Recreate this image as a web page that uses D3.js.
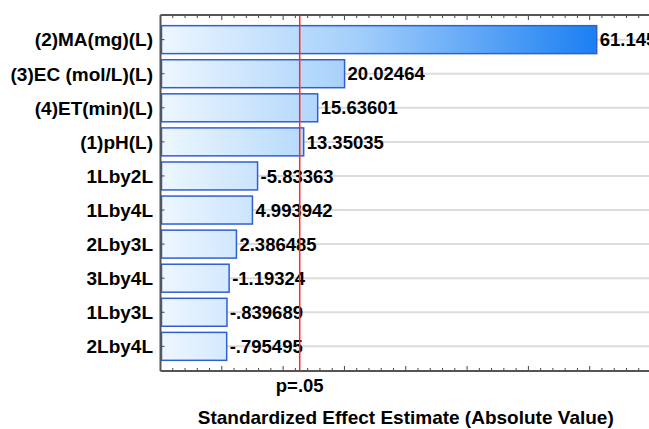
<!DOCTYPE html>
<html><head><meta charset="utf-8">
<script src="https://cdn.jsdelivr.net/npm/d3@7"></script>
<style>body{margin:0;background:#fff;} svg{display:block;}</style>
</head><body>
<svg id="c" width="649" height="429"></svg>
<script>
const categories = ["(2)MA(mg)(L)","(3)EC (mol/L)(L)","(4)ET(min)(L)","(1)pH(L)","1Lby2L","1Lby4L","2Lby3L","3Lby4L","1Lby3L","2Lby4L"];
const effects = [61.14500, 20.02464, 15.63601, 13.35035, -5.83363, 4.993942, 2.386485, -1.19324, -0.839689, -0.795495];
const valueLabels = ["61.14500","20.02464","15.63601","13.35035","-5.83363","4.993942","2.386485","-1.19324","-.839689","-.795495"];
const pCritical = 12.706;
const pLabel = "p=.05";
const xTitle = "Standardized Effect Estimate (Absolute Value)";
const xDomain = [-10, 70];

const svg = d3.select("#c");
const L = 160.5, R = 651, T = 15, B = 371;
const x = d3.scaleLinear().domain(xDomain).range([L, R]);
const y = d3.scaleBand().domain(categories).range([T, B]).paddingInner(0.18).paddingOuter(0.313);
const font = "'Liberation Sans', Arial, sans-serif";

const defs = svg.append("defs");
const g = defs.append("linearGradient").attr("id","grad").attr("gradientUnits","userSpaceOnUse")
  .attr("x1", x(xDomain[0])).attr("x2", x(d3.max(effects, d=>Math.abs(d)))).attr("y1",0).attr("y2",0);
g.append("stop").attr("offset",0).attr("stop-color","#eef7ff");
g.append("stop").attr("offset",0.45).attr("stop-color","#a3cffb");
g.append("stop").attr("offset",1).attr("stop-color","#1b7ff2");

// grid lines
svg.append("g").selectAll("line").data(categories).join("line")
  .attr("x1", L).attr("x2", R)
  .attr("y1", d=>y(d)+y.bandwidth()/2).attr("y2", d=>y(d)+y.bandwidth()/2)
  .attr("stroke","#dcdcdc").attr("stroke-width",2);

// bars
svg.append("g").selectAll("rect").data(categories).join("rect")
  .attr("x", x(xDomain[0])+1)
  .attr("y", d=>y(d))
  .attr("width", (d,i)=>x(Math.abs(effects[i]))-x(xDomain[0])-1)
  .attr("height", y.bandwidth())
  .attr("fill","url(#grad)")
  .attr("stroke","#2f5fd3").attr("stroke-width",1.5);

// value labels
svg.append("g").selectAll("text").data(categories).join("text")
  .attr("x", (d,i)=>x(Math.abs(effects[i]))+3)
  .attr("y", d=>y(d)+y.bandwidth()/2)
  .attr("dy","0.36em")
  .attr("font-family",font).attr("font-weight","bold").attr("font-size",18.5)
  .attr("fill","#000")
  .text((d,i)=>valueLabels[i]);

// red line
svg.append("line").attr("x1",x(pCritical)).attr("x2",x(pCritical)).attr("y1",T).attr("y2",B)
  .attr("stroke","#ff2a2a").attr("stroke-width",1.5);

// axes
const majors = d3.range(xDomain[0], xDomain[1]+0.001, 10);
const minors = d3.range(xDomain[0], xDomain[1]+0.001, 2).filter(v=>Math.abs(v%10)>0.001);
const axG = svg.append("g").attr("stroke","#444").attr("stroke-width",1);
[[T,1],[B,-1]].forEach(([yy,dir])=>{
  axG.selectAll(null).data(majors).join("line")
    .attr("x1",d=>x(d)).attr("x2",d=>x(d)).attr("y1",yy).attr("y2",yy+dir*5);
  axG.selectAll(null).data(minors).join("line")
    .attr("x1",d=>x(d)).attr("x2",d=>x(d)).attr("y1",yy).attr("y2",yy+dir*3);
});
// left axis ticks
axG.selectAll(null).data(categories).join("line")
  .attr("x1",L).attr("x2",L+4)
  .attr("y1",d=>y(d)+y.bandwidth()/2).attr("y2",d=>y(d)+y.bandwidth()/2);
svg.append("line").attr("x1",L).attr("x2",R).attr("y1",T).attr("y2",T).attr("stroke","#555").attr("stroke-width",2);
svg.append("line").attr("x1",L).attr("x2",R).attr("y1",B).attr("y2",B).attr("stroke","#555").attr("stroke-width",2);
svg.append("line").attr("x1",L).attr("x2",L).attr("y1",T).attr("y2",B).attr("stroke","#555").attr("stroke-width",2);

// category labels
svg.append("g").selectAll("text").data(categories).join("text")
  .attr("x", 153).attr("y", d=>y(d)+y.bandwidth()/2).attr("dy","0.36em")
  .attr("text-anchor","end")
  .attr("font-family",font).attr("font-weight","bold").attr("font-size",19)
  .text(d=>d);

svg.append("text").attr("x",x(pCritical)).attr("y",392).attr("text-anchor","middle")
  .attr("font-family",font).attr("font-weight","bold").attr("font-size",18.5).text(pLabel);
svg.append("text").attr("x",(L+R)/2).attr("y",424).attr("text-anchor","middle")
  .attr("font-family",font).attr("font-weight","bold").attr("font-size",19).text(xTitle);
</script>
</body></html>
